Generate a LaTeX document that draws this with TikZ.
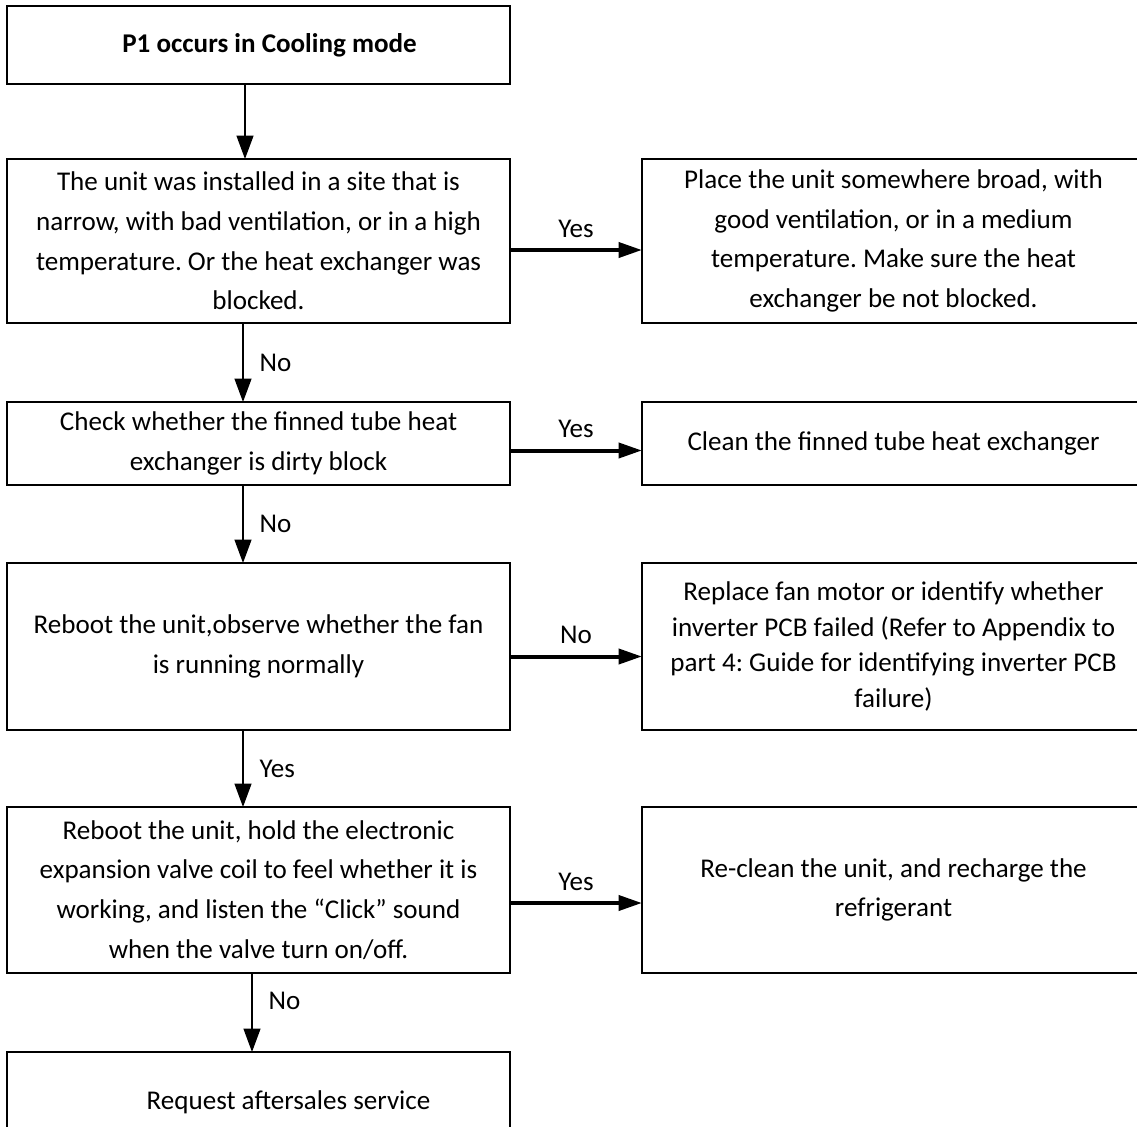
\documentclass[tikz,border=0pt]{standalone}
\usepackage{fontspec}
\setmainfont{Carlito}
\usetikzlibrary{positioning,arrows.meta}

\newcommand{\chartfont}{\fontsize{15.4pt}{22.6pt}\selectfont}
\frenchspacing

\begin{document}
\begin{tikzpicture}[node distance=1.55cm and 2.64cm, every node/.style={align=center},
  stepbox/.style={draw, line width=0.04cm, outer sep=0pt, inner sep=0pt,
    minimum width=10.06cm, font=\chartfont},
  downarrow/.style={-{Triangle[length=0.47cm,width=0.34cm]}, line width=0.03cm},
  sidearrow/.style={-{Triangle[length=0.47cm,width=0.3cm]}, line width=0.08cm},
  tag/.style={font=\chartfont, inner sep=2pt}]
\useasboundingbox (0,0) rectangle (22.74,-22.54);
\clip (0,0) rectangle (22.74,-22.54);
\node[stepbox, minimum height=1.56cm, anchor=north west] (start) at (0.14,-0.12)
  {\hspace*{0.44cm}\textbf{P1 occurs in Cooling mode}};
\node[stepbox, minimum height=3.28cm, below=1.5cm of start] (site)
  {The unit was installed in a site that is\\narrow, with bad ventilation, or in a high\\temperature. Or the heat exchanger was\\blocked.};
\node[stepbox, minimum height=3.28cm, right=of site] (place)
  {Place the unit somewhere broad, with\\good ventilation, or in a medium\\temperature. Make sure the heat\\exchanger be not blocked.};
\node[stepbox, minimum height=1.66cm, below=1.58cm of site] (dirty)
  {Check whether the finned tube heat\\exchanger is dirty block};
\node[stepbox, minimum height=1.66cm, right=of dirty] (clean)
  {Clean the finned tube heat exchanger};
\node[stepbox, minimum height=3.34cm, below=1.56cm of dirty] (fan)
  {Reboot the unit,observe whether the fan\\is running normally};
\node[stepbox, minimum height=3.34cm, right=of fan,
      font=\fontsize{15.4pt}{20.2pt}\selectfont] (motor)
  {Replace fan motor or identify whether\\inverter PCB failed (Refer to Appendix to\\part 4: Guide for identifying inverter PCB\\failure)};
\node[stepbox, minimum height=3.32cm, below=1.54cm of fan] (valve)
  {Reboot the unit, hold the electronic\\expansion valve coil to feel whether it is\\working, and listen the “Click” sound\\when the valve turn on/off.};
\node[stepbox, minimum height=3.32cm, right=of valve] (recharge)
  {Re-clean the unit, and recharge the\\refrigerant};
\node[stepbox, minimum height=2.0cm, below=1.58cm of valve] (service)
  {\hspace*{1.2cm}Request aftersales service};

% down the left column
\draw[downarrow] ([xshift=-0.27cm]start.south) -- ([xshift=-0.27cm]site.north);
\draw[downarrow] ([xshift=-0.31cm]site.south) -- ([xshift=-0.31cm]dirty.north)
  node[tag, midway, right=7pt] {No};
\draw[downarrow] ([xshift=-0.31cm]dirty.south) -- ([xshift=-0.31cm]fan.north)
  node[tag, midway, right=7pt] {No};
\draw[downarrow] ([xshift=-0.31cm]fan.south) -- ([xshift=-0.31cm]valve.north)
  node[tag, midway, right=7pt] {Yes};
\draw[downarrow] ([xshift=-0.13cm]valve.south) -- ([xshift=-0.13cm]service.north)
  node[tag, pos=0.35, right=7pt] {No};

% across to the remedies
\draw[sidearrow] ([yshift=-0.18cm]site.east) -- ([yshift=-0.18cm]place.west)
  node[tag, midway, above=4pt] {Yes};
\draw[sidearrow] ([yshift=-0.14cm]dirty.east) -- ([yshift=-0.14cm]clean.west)
  node[tag, midway, above=4pt] {Yes};
\draw[sidearrow] ([yshift=-0.2cm]fan.east) -- ([yshift=-0.2cm]motor.west)
  node[tag, midway, above=4pt] {No};
\draw[sidearrow] ([yshift=-0.26cm]valve.east) -- ([yshift=-0.26cm]recharge.west)
  node[tag, midway, above=4pt] {Yes};
\end{tikzpicture}
\end{document}
